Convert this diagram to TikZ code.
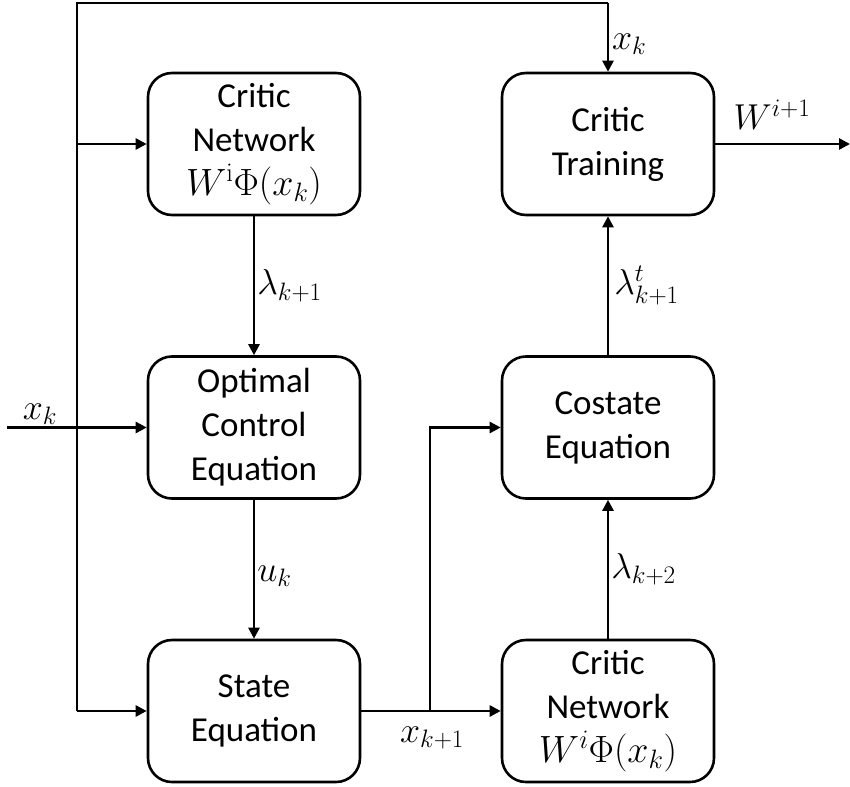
\RequirePackage{fix-cm}
\documentclass[tikz,border=0pt]{standalone}
\usepackage[no-math]{fontspec}
\setmainfont{Carlito}
\usetikzlibrary{arrows.meta}
\newcommand{\mth}[1]{{\fontsize{38}{45}\selectfont$#1$}}
\tikzset{
  blk/.style={draw, line width=2.6pt, rounded corners=24pt, minimum width=212pt, minimum height=142pt, align=center, font=\fontsize{35}{44}\selectfont, inner sep=0pt},
  conn/.style={line width=2.6pt, -{Triangle[length=11pt,width=11pt]}},
  plain/.style={line width=2.6pt},
  lbl/.style={font=\fontsize{36}{40}\selectfont, inner sep=2pt}
}
\begin{document}
\begin{tikzpicture}[x=1pt,y=-1pt]
\useasboundingbox (0,0) rectangle (850,786);
\node[blk] (cn1) at (254,144) {Critic\\Network\\\mth{W^{\mathrm{i}}\Phi(x_k)}};
\node[blk] (oc) at (254,427.5) {Optimal\\Control\\Equation};
\node[blk] (st) at (254,711) {State\\Equation};
\node[blk] (ct) at (608,144) {Critic\\Training};
\node[blk] (cs) at (608,427.5) {Costate\\Equation};
\node[blk] (cn2) at (608,711) {Critic\\Network\\\mth{W^{i}\Phi(x_k)}};
\coordinate (in) at (7,427.5);
\coordinate (out) at (850,144);
\coordinate (tl) at (77,3);
\coordinate (bl) at (77,711);
\coordinate (tr) at (608,3);
\coordinate (br) at (430,711);
% input
\draw[conn] (in) -- (oc.west);
\node[lbl, anchor=base] at (40,419) {$x_k$};
% left bus
\draw[plain] (bl) -- (tl) -- (tr);
\draw[conn] (tr) -- (ct.north);
\node[lbl, anchor=west] at (610,44) {$x_k$};
\draw[conn] (77,144) -- (cn1.west);
\draw[conn] (bl) -- (st.west);
% vertical flows
\draw[conn] (cn1.south) -- node[lbl, pos=0.5, anchor=west] {$\lambda_{k+1}$} (oc.north);
\draw[conn] (oc.south) -- node[lbl, pos=0.55, anchor=west] {$u_k$} (st.north);
\draw[conn] (cn2.north) -- node[lbl, pos=0.5, anchor=west] {$\lambda_{k+2}$} (cs.south);
\draw[conn] (cs.north) -- node[lbl, pos=0.5, anchor=west, xshift=3pt] {$\lambda^{t}_{k+1}$} (ct.south);
% state to critic network 2 and costate
\draw[conn] (st.east) -- (cn2.west);
\node[lbl] at (432,738) {$x_{k+1}$};
\draw[conn] (br) -- (430,427.5) -- (cs.west);
% output
\draw[conn] (ct.east) -- (out);
\node[lbl, anchor=base] at (772,130) {$W^{i+1}$};
\end{tikzpicture}
\end{document}
